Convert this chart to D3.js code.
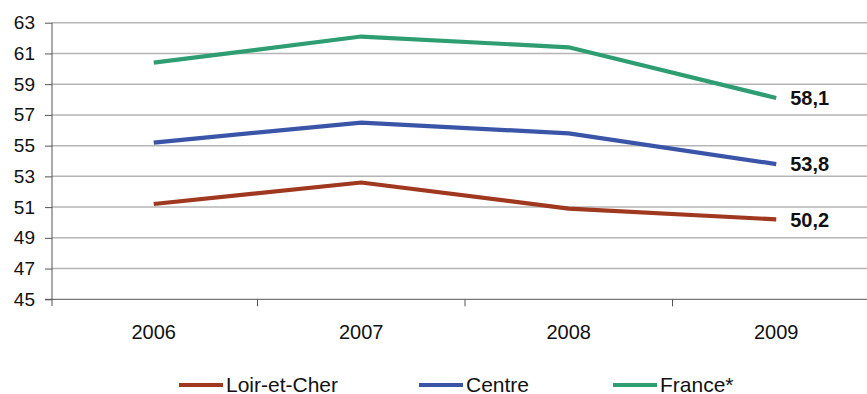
<!DOCTYPE html>
<html><head><meta charset="utf-8">
<script src="https://cdn.jsdelivr.net/npm/d3@7"></script>
<style>
html,body{margin:0;padding:0;background:#fff;}
svg{display:block;font-family:"Liberation Sans",Arial,sans-serif;}
</style></head>
<body><svg id="c" width="867" height="394"></svg>
<script>
const years = ["2006","2007","2008","2009"];
const seriesNames = ["Loir-et-Cher","Centre","France*"];
const loirEtCher = [51.2, 52.6, 50.9, 50.2];
const centre = [55.2, 56.5, 55.8, 53.8];
const france = [60.4, 62.1, 61.4, 58.1];
const endLabels = ["50,2","53,8","58,1"];
const yTicks = [45,47,49,51,53,55,57,59,61,63];
const colors = ["#a0381f","#3a55a8","#2e9e72"];

const seriesValues = [loirEtCher, centre, france];
const svg = d3.select("#c");
const x = d3.scaleBand().domain(years).range([50, 880]);
const y = d3.scaleLinear().domain([45, 63]).range([299.3, 22.7]);
const axisX = 52;

// gridlines
svg.append("g").selectAll("line").data(yTicks.slice(1)).join("line")
  .attr("x1", axisX).attr("x2", 880)
  .attr("y1", d => y(d)).attr("y2", d => y(d))
  .attr("stroke", "#b5b5b5").attr("stroke-width", 1.5);

// y axis
const gy = svg.append("g").attr("transform", `translate(${axisX},0)`)
  .call(d3.axisLeft(y).tickValues(yTicks).tickSize(7).tickPadding(10).tickFormat(d3.format("d")));
gy.select(".domain").attr("stroke", "#555").attr("d", `M-0,${y(63)}V306`);
gy.selectAll(".tick line").attr("stroke", "#555");
gy.selectAll("text").attr("font-size", 19).attr("fill", "#111")
  .attr("font-family", "Liberation Sans, Arial, sans-serif");

// x axis
const gx = svg.append("g").attr("transform", `translate(0,${y(45)})`);
gx.append("line").attr("x1", 45).attr("x2", 880).attr("y1", 0).attr("y2", 0).attr("stroke", "#555");
gx.selectAll("line.t").data(years.slice(1)).join("line").attr("class","t")
  .attr("x1", d => x(d)).attr("x2", d => x(d)).attr("y1", 0).attr("y2", 7).attr("stroke", "#555");
gx.selectAll("text").data(years).join("text")
  .attr("x", d => x(d) + x.bandwidth()/2).attr("y", 40)
  .attr("text-anchor", "middle").attr("font-size", 20).attr("fill", "#111").text(d => d);

// lines
const line = d3.line().x((d, i) => x(years[i]) + x.bandwidth()/2).y(d => y(d));
svg.append("g").selectAll("path").data(seriesValues).join("path")
  .attr("d", d => line(d)).attr("fill", "none")
  .attr("stroke", (d, i) => colors[i]).attr("stroke-width", 4.2)
  .attr("stroke-linejoin", "miter");

// end labels
svg.append("g").selectAll("text").data(seriesValues).join("text")
  .attr("x", x(years[3]) + x.bandwidth()/2 + 14)
  .attr("y", d => y(d[3]))
  .attr("dy", "0.36em")
  .attr("font-size", 20).attr("font-weight", "bold").attr("fill", "#111")
  .text((d, i) => endLabels[i]);

// legend
const legX = [179, 419, 613];
const lg = svg.append("g").selectAll("g").data(seriesNames).join("g")
  .attr("transform", (d, i) => `translate(${legX[i]},385)`);
lg.append("line").attr("x1", 0).attr("x2", 44).attr("y1", 0).attr("y2", 0)
  .attr("stroke", (d, i) => colors[i]).attr("stroke-width", 4.2);
lg.append("text").attr("x", 47).attr("y", 6.5).attr("font-size", 21).attr("fill", "#111")
  .text(d => d);
</script></body></html>
